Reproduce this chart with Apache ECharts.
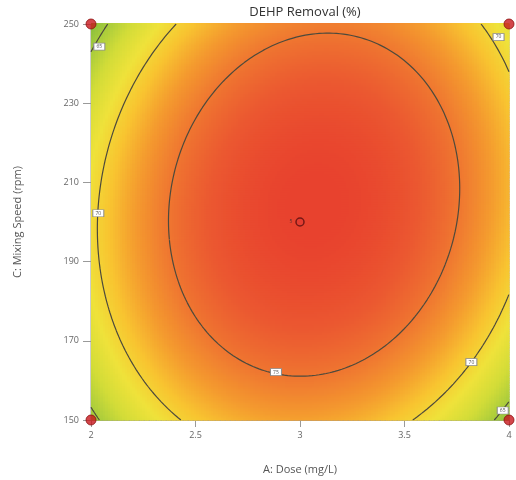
<!DOCTYPE html>
<html><head><meta charset="utf-8">
<script src="https://cdn.jsdelivr.net/npm/echarts@6/dist/echarts.min.js"></script>
<style>html,body{margin:0;padding:0;background:#fff}#c{width:516px;height:480px}</style>
</head><body><div id="c"></div>
<script>
// ---- data ----
const doseRange = [2, 4];          // A: Dose (mg/L)
const speedRange = [150, 250];     // C: Mixing Speed (rpm)
const modelTerms = ['Intercept', 'A', 'C', 'AC', 'A²', 'C²'];   // coded-factor quadratic model
const modelCoefs = [79.04, 1.04, 0.88, 1.30, -8.55, -5.53];
const contourLevels = [65, 70, 75];
const colorStops = ['#78b83e', '#a6cb3c', '#d2dc38', '#efe23a', '#f8c430', '#f49a2f', '#ef7630', '#eb5830', '#e8422e'];
const designDose = [2, 2, 4, 4];
const designSpeed = [150, 250, 250, 150];
const centerDose = [3];
const centerSpeed = [200];
const centerReps = ['5'];
const labelDose = [2.885, 2.035, 3.95, 3.82, 2.04, 3.97];
const labelSpeed = [162.1, 202.2, 246.7, 164.6, 244.3, 152.4];
const labelText = ['75', '70', '70', '70', '65', '65'];

function response(dose, speed) {
  const X = (dose - (doseRange[0] + doseRange[1]) / 2) / ((doseRange[1] - doseRange[0]) / 2);
  const Y = (speed - (speedRange[0] + speedRange[1]) / 2) / ((speedRange[1] - speedRange[0]) / 2);
  const b = modelCoefs;
  return b[0] + b[1] * X + b[2] * Y + b[3] * X * Y + b[4] * X * X + b[5] * Y * Y;
}

// surface cells
const NX = 170, NY = 170;
const dx = (doseRange[1] - doseRange[0]) / NX, dy = (speedRange[1] - speedRange[0]) / NY;
const cells = [];
for (let i = 0; i < NX; i++) for (let j = 0; j < NY; j++) {
  const x0 = doseRange[0] + i * dx, y0 = speedRange[0] + j * dy;
  cells.push([x0, y0, x0 + dx, y0 + dy, response(x0 + dx / 2, y0 + dy / 2)]);
}

// contours by marching squares, chained into polylines
const MX = 240, MY = 240;
const gx = (doseRange[1] - doseRange[0]) / MX, gy = (speedRange[1] - speedRange[0]) / MY;
const V = [];
for (let i = 0; i <= MX; i++) { V.push([]); for (let j = 0; j <= MY; j++) V[i].push(response(doseRange[0] + i * gx, speedRange[0] + j * gy)); }
function contourChains(level) {
  const pts = {}, adj = {};
  function edgePt(key, xa, ya, va, xb, yb, vb) {
    if (!pts[key]) { const t = (level - va) / (vb - va); pts[key] = [xa + t * (xb - xa), ya + t * (yb - ya)]; }
    return key;
  }
  function link(a, b) { (adj[a] = adj[a] || []).push(b); (adj[b] = adj[b] || []).push(a); }
  for (let i = 0; i < MX; i++) for (let j = 0; j < MY; j++) {
    const x0 = doseRange[0] + i * gx, x1 = x0 + gx, y0 = speedRange[0] + j * gy, y1 = y0 + gy;
    const v00 = V[i][j], v10 = V[i + 1][j], v11 = V[i + 1][j + 1], v01 = V[i][j + 1];
    const e = [];
    if ((v00 < level) !== (v10 < level)) e.push(edgePt('h' + i + '_' + j, x0, y0, v00, x1, y0, v10));
    if ((v10 < level) !== (v11 < level)) e.push(edgePt('v' + (i + 1) + '_' + j, x1, y0, v10, x1, y1, v11));
    if ((v01 < level) !== (v11 < level)) e.push(edgePt('h' + i + '_' + (j + 1), x0, y1, v01, x1, y1, v11));
    if ((v00 < level) !== (v01 < level)) e.push(edgePt('v' + i + '_' + j, x0, y0, v00, x0, y1, v01));
    if (e.length === 2) link(e[0], e[1]);
    else if (e.length === 4) { link(e[0], e[1]); link(e[2], e[3]); }
  }
  const used = {}, chains = [];
  const keys = Object.keys(adj);
  const starts = keys.filter(k => adj[k].length === 1).concat(keys);
  for (const s of starts) {
    if (used[s]) continue;
    const chain = [s]; used[s] = true; let cur = s;
    while (true) {
      const nxt = (adj[cur] || []).find(n => !used[n]);
      if (!nxt) break;
      used[nxt] = true; chain.push(nxt); cur = nxt;
    }
    if (adj[s].length === 2 && adj[s].indexOf(cur) >= 0 && chain.length > 2) chain.push(s);
    if (chain.length > 1) chains.push(chain.map(k => pts[k]));
  }
  return chains;
}
const contourSeries = [];
contourLevels.forEach(lv => contourChains(lv).forEach(ch => contourSeries.push({
  type: 'line', data: ch, symbol: 'none', smooth: false, silent: true, z: 3,
  lineStyle: { color: '#4d4a3c', width: 1.2 }, animation: false
})));

const chart = echarts.init(document.getElementById('c'), null, { renderer: 'canvas' });
const font = 'Open Sans';
chart.setOption({
  animation: false,
  textStyle: { fontFamily: font },
  title: { text: 'DEHP Removal (%)', left: 300, top: 1, textAlign: 'center',
    textStyle: { fontSize: 13, fontWeight: 'normal', color: '#333', fontFamily: font } },
  grid: { left: 91, right: 7, top: 24, bottom: 59, show: true, borderColor: '#9a9a9a', borderWidth: 1, backgroundColor: 'transparent' },
  xAxis: { type: 'value', min: doseRange[0], max: doseRange[1], interval: 0.5,
    name: 'A: Dose (mg/L)', nameLocation: 'middle', nameGap: 44,
    nameTextStyle: { fontSize: 11, color: '#555', fontFamily: font },
    axisLine: { lineStyle: { color: '#9a9a9a' } }, axisTick: { length: 7, lineStyle: { color: '#9a9a9a' } },
    axisLabel: { fontSize: 9, color: '#666', margin: 11, fontFamily: font }, splitLine: { show: false } },
  yAxis: { type: 'value', min: speedRange[0], max: speedRange[1], interval: 20,
    name: 'C: Mixing Speed (rpm)', nameLocation: 'middle', nameGap: 68,
    nameTextStyle: { fontSize: 11, color: '#555', fontFamily: font },
    axisLine: { lineStyle: { color: '#9a9a9a' } }, axisTick: { length: 8, lineStyle: { color: '#9a9a9a' } },
    axisLabel: { fontSize: 9, color: '#666', margin: 12, fontFamily: font }, splitLine: { show: false } },
  visualMap: { show: false, type: 'continuous', min: 63, max: 79, dimension: 4, seriesIndex: 0, inRange: { color: colorStops } },
  series: [
    { type: 'custom', data: cells, z: 1, silent: true, progressive: 0, animation: false,
      encode: { x: [0, 2], y: [1, 3] },
      renderItem: function (params, api) {
        const p0 = api.coord([api.value(0), api.value(3)]);
        const p1 = api.coord([api.value(2), api.value(1)]);
        const x = Math.floor(p0[0]), y = Math.floor(p0[1]);
        return { type: 'rect', shape: { x: x, y: y, width: Math.ceil(p1[0]) - x + 0.5, height: Math.ceil(p1[1]) - y + 0.5 },
          style: { fill: api.visual('color') } };
      } }
  ].concat(contourSeries).concat([
    { type: 'scatter', data: labelDose.map((d, i) => [d, labelSpeed[i], labelText[i]]), symbol: 'rect', symbolSize: [11, 7],
      z: 5, silent: true, itemStyle: { color: '#ffffff', borderColor: '#8a8a8a', borderWidth: 0.8, opacity: 1 },
      label: { show: true, position: 'inside', formatter: p => p.data[2], fontSize: 5, color: '#555', fontFamily: font } },
    { type: 'scatter', data: centerDose.map((d, i) => [d, centerSpeed[i], centerReps[i]]), symbol: 'circle', symbolSize: 8,
      z: 6, silent: true, itemStyle: { color: '#e23c32', borderColor: '#5a0f0f', borderWidth: 1.5 },
      label: { show: true, position: 'left', distance: 3, formatter: p => p.data[2], fontSize: 5, color: '#333', fontFamily: font } },
    { type: 'scatter', data: designDose.map((d, i) => [d, designSpeed[i]]), symbol: 'circle', symbolSize: 10, clip: false,
      z: 7, silent: true, itemStyle: { color: '#c8161d', borderColor: '#8c1010', borderWidth: 1 } }
  ])
});
</script></body></html>
